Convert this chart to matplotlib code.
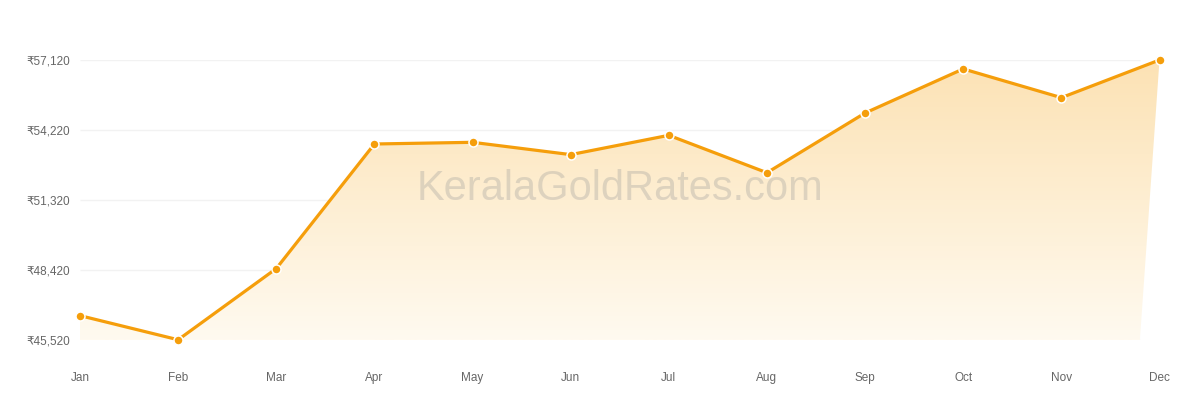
import numpy as np
import matplotlib
matplotlib.use("Agg")
import matplotlib.pyplot as plt
from matplotlib.patches import Polygon

months = ["Jan", "Feb", "Mar", "Apr", "May", "Jun", "Jul", "Aug", "Sep", "Oct", "Nov", "Dec"]
rates = [46530, 45530, 48480, 53640, 53710, 53200, 54000, 52450, 54925, 56750, 55560, 57120]
yticks = [45520, 48420, 51320, 54220, 57120]

plt.rcParams['font.family'] = ['Liberation Sans', 'DejaVu Sans']

orange = "#f59e0b"
grid_end = 10.8   # grid and area stop a bit before the last point

fig = plt.figure(figsize=(12, 4), dpi=100)
ax = fig.add_axes([80 / 1200, 60 / 400, (1159.5 - 80) / 1200, 280 / 400])
x = np.arange(len(months))
ax.set_xlim(0, len(months) - 1)
ax.set_ylim(yticks[0], yticks[-1])

for s in ax.spines.values():
    s.set_visible(False)

# grid lines
ax.hlines(yticks, 0, grid_end, color="#f2f2f2", lw=1, zorder=0)

# gradient area under the line
verts = list(zip(x, rates)) + [(grid_end, yticks[0]), (0, yticks[0])]
poly = Polygon(verts, closed=True, facecolor="none", edgecolor="none")
ax.add_patch(poly)
grad = np.linspace(0, 1, 256).reshape(-1, 1)
top = np.array([252, 226, 180]) / 255.0
bot = np.array([255, 250, 240]) / 255.0
img = top * (1 - grad[..., None]) + bot * grad[..., None]
img = np.repeat(img, 2, axis=1)
im = ax.imshow(img, extent=[0, len(months) - 1, yticks[0], yticks[-1]],
               aspect="auto", origin="upper", zorder=1)
im.set_clip_path(poly)

ax.text(5.5, 51780, "KeralaGoldRates.com", fontsize=30, color="#969696",
        alpha=0.3, ha="center", va="center", zorder=2)

ax.plot(x, rates, color=orange, lw=2.3, zorder=3, clip_on=False)
ax.plot(x, rates, "o", color=orange, markersize=6.5, markeredgecolor="white",
        markeredgewidth=1.1, zorder=4, clip_on=False)

ax.set_yticks(yticks)
ax.set_yticklabels(["₹{:,}".format(v) for v in yticks])
ax.set_xticks(x)
ax.set_xticklabels(months)
ax.tick_params(length=0, labelsize=8.5, colors="#666666")
ax.tick_params(axis="y", pad=7)
ax.tick_params(axis="x", pad=23)

fig.savefig("out.png", dpi=100)
